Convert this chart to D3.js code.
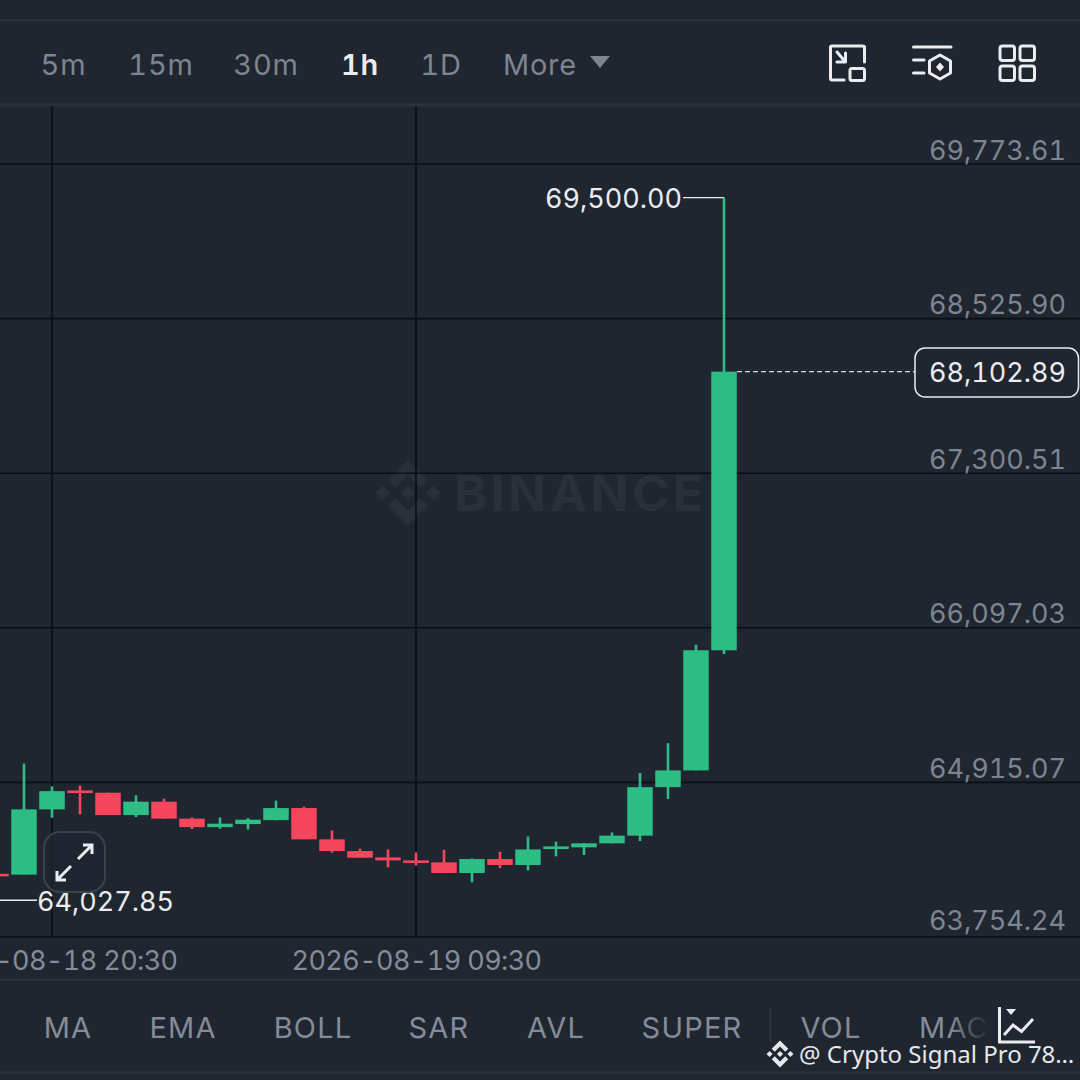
<!DOCTYPE html>
<html>
<head>
<meta charset="utf-8">
<script src="https://cdn.jsdelivr.net/npm/d3@7"></script>
<style>
  html, body { margin: 0; padding: 0; background: #1f2630; overflow: hidden; }
  svg { display: block; }
  text { font-family: Inter, sans-serif; font-variant-numeric: tabular-nums; }
</style>
</head>
<body>
<svg id="chart" width="1080" height="1080"></svg>
<script>
// 1h candles, times are hours after 2026-08-18 18:30
var candleHours = [0, 1, 2, 3, 4, 5, 6, 7, 8, 9, 10, 11, 12, 13, 14, 15, 16, 17, 18, 19, 20, 21, 22, 23, 24, 25, 26];
var opens  = [64226, 64220, 64711, 64854, 64837, 64668, 64769, 64641, 64577, 64600, 64630, 64721, 64485, 64397, 64349, 64327, 64312, 64232, 64337, 64292, 64412, 64425, 64455, 64513, 64879, 65006, 65924];
var closes = [64207, 64711, 64849, 64834, 64668, 64769, 64641, 64577, 64603, 64633, 64721, 64485, 64397, 64347, 64327, 64307, 64232, 64337, 64292, 64409, 64432, 64455, 64513, 64879, 65006, 65924, 68102.89];
var highs  = [64226, 65057, 64885, 64892, 64837, 64817, 64792, 64650, 64650, 64645, 64777, 64731, 64552, 64415, 64409, 64387, 64407, 64342, 64392, 64507, 64467, 64455, 64537, 64986, 65213, 65966, 69500];
var lows   = [64207, 64220, 64648, 64673, 64668, 64653, 64641, 64562, 64565, 64558, 64628, 64485, 64385, 64347, 64274, 64289, 64232, 64162, 64269, 64252, 64357, 64367, 64455, 64472, 64789, 65006, 65896];

var priceTicks = [69773.61, 68525.90, 67300.51, 66097.03, 64915.07, 63754.24];
var timeTicks = ['2026-08-18 20:30', '2026-08-19 09:30'];
var lastPrice = 68102.89;
var highPrice = 69500.00;
var lowPrice = 64027.85;

var intervals = ['5m', '15m', '30m', '1h', '1D', 'More'];
var intervalX = [63.5, 161, 266, 360, 441, 540];
var indicators = ['MA', 'EMA', 'BOLL', 'SAR', 'AVL', 'SUPER', 'VOL', 'MACD'];
var indicatorX = [68, 183, 313, 439, 556, 692, 831, 919];

var BG = '#1f2630', UP = '#2ebd85', DOWN = '#f6465d', GRID = '#0b0e13',
    TICK = '#7d8590', LABEL = '#848c99', LINE = '#2b323d', WHITE = '#eaecef';
var LOGO = [
    'M38.73 53.2l24.59-24.58 24.6 24.6 14.3-14.31L63.32 0 24.43 38.9l14.3 14.3z',
    'M0 63.31l14.3-14.31 14.31 14.31-14.31 14.3z',
    'M38.73 73.41l24.59 24.59 24.6-24.6 14.31 14.29-38.9 38.91-38.91-38.88-.02-.02 14.33-14.29z',
    'M98 63.31l14.3-14.31 14.31 14.3-14.31 14.32z',
    'M77.83 63.3L63.32 48.78 52.59 59.51l-1.24 1.23-2.54 2.54 14.51 14.5 14.51-14.47z'
];

var svg = d3.select('#chart');
var parseTime = d3.utcParse('%Y-%m-%d %H:%M');
var fmtPrice = d3.format(',.2f');

var t0 = parseTime(timeTicks[0]), t1 = parseTime(timeTicks[1]);
var x = d3.scaleUtc().domain([t0, t1]).range([52, 416]);
var y = d3.scaleLog().domain([priceTicks[5], priceTicks[0]]).range([937, 164]);
var start = d3.utcHour.offset(t0, -2);
var candles = candleHours.map(function (h, i) {
    return { t: d3.utcHour.offset(start, h), o: opens[i], c: closes[i], h: highs[i], l: lows[i] };
});

function drawLogo(parent, cx, cy, size, fill) {
    var k = size / 126.61;
    parent.append('g')
        .attr('transform', 'translate(' + (cx - size / 2) + ',' + (cy - size / 2) + ') scale(' + k + ')')
        .attr('fill', fill)
        .selectAll('path').data(LOGO).join('path').attr('d', function (d) { return d; });
}

function hline(yy, color, w) {
    svg.append('line').attr('x1', 0).attr('x2', 1080).attr('y1', yy).attr('y2', yy)
        .attr('stroke', color).attr('stroke-width', w);
}

// panel separators
hline(20.5, LINE, 2);
hline(105, LINE, 3);
hline(979.5, LINE, 2);
hline(1072.5, LINE, 2);

// watermark (sits under the grid)
drawLogo(svg, 408, 493, 65, '#2a303b');
svg.append('text').attr('x', 454).attr('y', 510.5)
    .attr('font-size', 50).attr('font-weight', 700)
    .attr('letter-spacing', 3.5).attr('fill', '#2a303b')
    .text('BINANCE');

// grid
svg.append('g').selectAll('line').data(priceTicks).join('line')
    .attr('x1', 0).attr('x2', 1080)
    .attr('y1', function (d) { return y(d); }).attr('y2', function (d) { return y(d); })
    .attr('stroke', GRID).attr('stroke-width', 1.6);
svg.append('g').selectAll('line').data(timeTicks).join('line')
    .attr('x1', function (d) { return x(parseTime(d)); }).attr('x2', function (d) { return x(parseTime(d)); })
    .attr('y1', 106).attr('y2', 937)
    .attr('stroke', GRID).attr('stroke-width', 1.6);

// price axis, log scale
var yAxis = d3.axisRight(y).tickValues(priceTicks).tickSize(0).tickPadding(0).tickFormat(fmtPrice);
var yG = svg.append('g').attr('transform', 'translate(1066,0)').call(yAxis);
yG.select('.domain').remove();
yG.selectAll('text')
    .attr('x', 0).attr('dy', 0)
    .attr('y', function (d, i) { return i === 5 ? -8 : -5; }) // bottom label sits a bit higher
    .attr('text-anchor', 'end').attr('fill', TICK)
    .attr('font-size', 27).style('font-family', 'Inter, sans-serif');

// time axis
var xAxis = d3.axisBottom(x).tickValues(timeTicks.map(parseTime)).tickSize(0).tickPadding(0)
    .tickFormat(d3.utcFormat('%Y-%m-%d %H:%M'));
var xG = svg.append('g').attr('transform', 'translate(0,937)').call(xAxis);
xG.select('.domain').remove();
xG.selectAll('text')
    .attr('y', 0).attr('dy', 33)
    .attr('fill', LABEL).attr('font-size', 27).attr('letter-spacing', -0.6)
    .style('font-family', 'Inter, sans-serif');

// candles
var bw = 25.5;
var cG = svg.append('g').selectAll('g').data(candles).join('g');
cG.append('line')
    .attr('x1', function (d) { return x(d.t); }).attr('x2', function (d) { return x(d.t); })
    .attr('y1', function (d) { return y(d.h); }).attr('y2', function (d) { return y(d.l); })
    .attr('stroke', function (d) { return d.c >= d.o ? UP : DOWN; })
    .attr('stroke-width', 2.6);
cG.append('rect')
    .attr('x', function (d) { return x(d.t) - bw / 2; })
    .attr('width', bw)
    .attr('y', function (d) { return y(Math.max(d.o, d.c)); })
    .attr('height', function (d) { return Math.max(2, Math.abs(y(d.o) - y(d.c))); })
    .attr('fill', function (d) { return d.c >= d.o ? UP : DOWN; });

// high / low markers
svg.append('line').attr('x1', 683).attr('x2', x(candles[26].t)).attr('y1', y(highPrice)).attr('y2', y(highPrice))
    .attr('stroke', WHITE).attr('stroke-width', 1.4);
svg.append('text').attr('x', 682).attr('y', y(highPrice) + 10.5).attr('text-anchor', 'end')
    .attr('fill', WHITE).attr('font-size', 27).text(fmtPrice(highPrice));
svg.append('line').attr('x1', 0).attr('x2', 37).attr('y1', y(lowPrice)).attr('y2', y(lowPrice))
    .attr('stroke', WHITE).attr('stroke-width', 1.4);
svg.append('text').attr('x', 37).attr('y', y(lowPrice) + 10.5)
    .attr('fill', WHITE).attr('font-size', 27).text(fmtPrice(lowPrice));

// last price tag
svg.append('line').attr('x1', 737).attr('x2', 915).attr('y1', y(lastPrice)).attr('y2', y(lastPrice))
    .attr('stroke', '#d5d8dc').attr('stroke-width', 1.4).attr('stroke-dasharray', '5 3');
svg.append('rect').attr('x', 915).attr('y', 348).attr('width', 163.5).attr('height', 49).attr('rx', 10)
    .attr('fill', BG).attr('stroke', WHITE).attr('stroke-width', 1.5);
svg.append('text').attr('x', 1066).attr('y', y(lastPrice) + 10.7).attr('text-anchor', 'end')
    .attr('fill', WHITE).attr('font-size', 27).text(fmtPrice(lastPrice));

// expand button
svg.append('rect').attr('x', 44).attr('y', 832).attr('width', 61).attr('height', 60).attr('rx', 16)
    .attr('fill', BG).attr('fill-opacity', 0.75).attr('stroke', '#3a414c').attr('stroke-width', 2);
svg.append('path')
    .attr('d', 'M78 859L92 845M83 845H92V854M71 866L57 880M57 871V880H66')
    .attr('fill', 'none').attr('stroke', WHITE).attr('stroke-width', 3);

// interval tabs
svg.append('g').selectAll('text').data(intervals).join('text')
    .attr('x', function (d, i) { return intervalX[i]; })
    .attr('y', 75)
    .attr('text-anchor', 'middle')
    .attr('font-size', 29)
    .attr('letter-spacing', 0.8)
    .attr('font-weight', function (d) { return d === '1h' ? 600 : 400; })
    .attr('fill', function (d) { return d === '1h' ? WHITE : TICK; })
    .text(function (d) { return d; });
svg.append('path').attr('d', 'M590 56H610L600 68Z').attr('fill', TICK);

// top right icons
var icons = svg.append('g').attr('fill', 'none').attr('stroke', WHITE).attr('stroke-width', 3)
    .attr('stroke-linecap', 'round').attr('stroke-linejoin', 'round');
icons.append('path').attr('d', 'M864.5 62V47Q864.5 46 862.5 46H832Q830.5 46 830.5 47V78Q830.5 80 832 80H844');
icons.append('rect').attr('x', 850).attr('y', 68.5).attr('width', 14.5).attr('height', 12).attr('rx', 2);
icons.append('path').attr('d', 'M837 52L845 61.5M837 62H845.5V53');
icons.append('path').attr('d', 'M913.5 47H951M913.5 60H924M913.5 73H924');
icons.append('path').attr('d', 'M940 55L950.5 61V73L940 79L929.5 73V61Z');
icons.append('path').attr('d', 'M940 62.5L944 67L940 71.5L936 67Z').attr('fill', WHITE).attr('stroke', 'none');
[[1000, 46], [1020, 46], [1000, 66], [1020, 66]].forEach(function (p) {
    icons.append('rect').attr('x', p[0]).attr('y', p[1]).attr('width', 14.5).attr('height', 14.5).attr('rx', 2.5);
});

// indicator tabs
svg.append('g').selectAll('text').data(indicators).join('text')
    .attr('x', function (d, i) { return indicatorX[i]; })
    .attr('y', 1038)
    .attr('text-anchor', function (d) { return d === 'MACD' ? 'start' : 'middle'; })
    .attr('font-size', 29)
    .attr('letter-spacing', 1.2)
    .attr('fill', LABEL)
    .text(function (d) { return d; });
svg.append('line').attr('x1', 770.5).attr('x2', 770.5).attr('y1', 1009).attr('y2', 1042)
    .attr('stroke', '#323944').attr('stroke-width', 1.5);

// fade over the scrolled tab list
var grad = svg.append('defs').append('linearGradient').attr('id', 'tabFade');
grad.append('stop').attr('offset', 0).attr('stop-color', BG).attr('stop-opacity', 0);
grad.append('stop').attr('offset', 1).attr('stop-color', BG).attr('stop-opacity', 1);
svg.append('rect').attr('x', 950).attr('y', 1005).attr('width', 40).attr('height', 45).attr('fill', 'url(#tabFade)');
svg.append('rect').attr('x', 990).attr('y', 1005).attr('width', 90).attr('height', 45).attr('fill', BG);

// chart type icon
var tab = svg.append('g').attr('fill', 'none').attr('stroke', WHITE).attr('stroke-width', 3);
tab.append('path').attr('d', 'M999.5 1007V1042H1035');
tab.append('path').attr('d', 'M1004 1035L1013 1025L1021.5 1031.5L1033 1019');
tab.append('path').attr('d', 'M1006 1009H1016L1011 1015Z').attr('fill', WHITE).attr('stroke', 'none');

// share watermark
drawLogo(svg, 780, 1054, 27, '#e6e8ea');
svg.append('text').attr('x', 799).attr('y', 1063)
    .attr('font-size', 24).attr('fill', '#e6e8ea')
    .style('font-family', '"Noto Sans", sans-serif')
    .text('@ Crypto Signal Pro 78…');
</script>
</body>
</html>
